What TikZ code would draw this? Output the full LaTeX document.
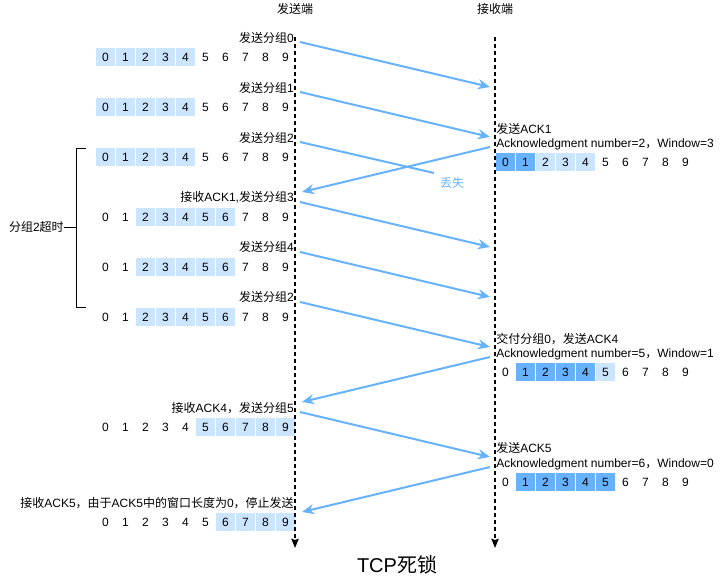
\documentclass[tikz,border=0pt]{standalone}
\usepackage{fontspec}
\setmainfont{Liberation Sans}
\newfontfamily\zhfont{Noto Sans CJK SC}
\newcommand{\zh}[1]{{\zhfont #1}}
\usetikzlibrary{arrows.meta, backgrounds}
\definecolor{winblue}{HTML}{CCE5FF}
\definecolor{ackblue}{HTML}{66B2FF}

\begin{document}
\begin{tikzpicture}[
    x=0.75pt, y=-0.75pt,
    every node/.style={font=\fontsize{9}{11}\selectfont, inner sep=0pt},
    cell/.style={draw=white, line width=0.5pt, minimum width=15pt, minimum height=14.25pt},
    lbl/.style={anchor=east},
    rlbl/.style={anchor=west},
    lifeline/.style={line width=1.1pt, dash pattern=on 3pt off 2.25pt, -{Stealth[length=7pt, width=5.5pt, inset=1pt]}},
    msg/.style={-{Stealth[length=9pt, width=7.5pt]}, line width=1.5pt, ackblue}
]

    \newcommand{\drawwindow}[3]{
        \foreach \i in {0,...,9} {
            \node[cell] (#1-\i) at (#2+20*\i, #3) {\i};
        }
    }

    \useasboundingbox (0,0) rectangle (723,580);

    % --- Sender windows ---
    \drawwindow{s0}{105.5}{57}
    \drawwindow{s1}{105.5}{107}
    \drawwindow{s2}{105.5}{157}
    \drawwindow{s3}{105.5}{217}
    \drawwindow{s4}{105.5}{267}
    \drawwindow{s5}{105.5}{317}
    \drawwindow{s6}{105.5}{427}
    \drawwindow{s7}{105.5}{522}

    % --- Receiver windows ---
    \drawwindow{r0}{505.5}{162}
    \drawwindow{r1}{505.5}{372}
    \drawwindow{r2}{505.5}{482}

    % Fills
    \begin{scope}[on background layer]
        \fill[winblue] (s0-0.north west) rectangle (s0-4.south east);
        \fill[winblue] (s1-0.north west) rectangle (s1-4.south east);
        \fill[winblue] (s2-0.north west) rectangle (s2-4.south east);
        \fill[winblue] (s3-2.north west) rectangle (s3-6.south east);
        \fill[winblue] (s4-2.north west) rectangle (s4-6.south east);
        \fill[winblue] (s5-2.north west) rectangle (s5-6.south east);
        \fill[winblue] (s6-5.north west) rectangle (s6-9.south east);
        \fill[winblue] (s7-6.north west) rectangle (s7-9.south east);
        \fill[ackblue] (r0-0.north west) rectangle (r0-1.south east);
        \fill[winblue] (r0-2.north west) rectangle (r0-4.south east);
        \fill[ackblue] (r1-1.north west) rectangle (r1-4.south east);
        \fill[winblue] (r1-5.north west) rectangle (r1-5.south east);
        \fill[ackblue] (r2-1.north west) rectangle (r2-5.south east);
    \end{scope}

    % --- Lifelines ---
    \node (snd) at (295,9) {\zh{发送端}};
    \node (rcv) at (495,9) {\zh{接收端}};
    \coordinate (sndtop) at (295,37);
    \coordinate (sndbot) at (295,548);
    \coordinate (rcvtop) at (495,37);
    \coordinate (rcvbot) at (495,548);
    \draw[lifeline] (sndtop) -- (sndbot);
    \draw[lifeline] (rcvtop) -- (rcvbot);

    % --- Sender labels ---
    \node[lbl] (l0) at (294,38) {\zh{发送分组}0};
    \node[lbl] (l1) at (294,88) {\zh{发送分组}1};
    \node[lbl] (l2) at (294,138) {\zh{发送分组}2};
    \node[lbl] (l3) at (294,197) {\zh{接收}ACK1,\zh{发送分组}3};
    \node[lbl] (l4) at (294,247) {\zh{发送分组}4};
    \node[lbl] (l5) at (294,297) {\zh{发送分组}2};
    \node[lbl] (l6) at (294,408) {\zh{接收}ACK4\zh{，发送分组}5};
    \node[lbl] (l7) at (294,503) {\zh{接收}ACK5\zh{，由于}ACK5\zh{中的窗口长度为}0\zh{，停止发送}};

    % --- Receiver labels ---
    \node[rlbl] (a0) at (496,129) {\zh{发送}ACK1};
    \node[rlbl] (n0) at (496,144) {Acknowledgment number=2\zh{，}Window=3};
    \node[rlbl] (a1) at (496,339) {\zh{交付分组}0\zh{，发送}ACK4};
    \node[rlbl] (n1) at (496,354) {Acknowledgment number=5\zh{，}Window=1};
    \node[rlbl] (a2) at (496,448) {\zh{发送}ACK5};
    \node[rlbl] (n2) at (496,464) {Acknowledgment number=6\zh{，}Window=0};

    % --- Timeout bracket ---
    \node[lbl] (timeout) at (64,227) {\zh{分组}2\zh{超时}};
    \draw (86,148) -- (76,148) -- (76,307) -- (86,307);
    \draw (timeout.east) -- (76,227);

    % --- Messages ---
    \foreach \n/\y in {0/42, 1/92, 2/202, 3/252, 4/302, 5/412} {
        \coordinate (p\n) at (300,\y);
        \coordinate (q\n) at (490,\y+45);
    }
    \foreach \n/\y in {1/147, 4/357, 5/467} {
        \coordinate (ackA\n) at (490,\y);
        \coordinate (ackB\n) at (302,\y+45);
    }
    \coordinate (lostA) at (300,142);
    \coordinate (lostB) at (434,173);
    \node[text=ackblue] (lost) at (452,183) {\zh{丢失}};

    \foreach \n in {0,...,5} \draw[msg] (p\n) -- (q\n);
    \foreach \n in {1,4,5} \draw[msg] (ackA\n) -- (ackB\n);
    \draw[msg, -] (lostA) -- (lostB);

    % Title
    \node[font=\fontsize{15}{18}\selectfont] (title) at (397,565) {TCP\zh{死锁}};
\end{tikzpicture}
\end{document}
